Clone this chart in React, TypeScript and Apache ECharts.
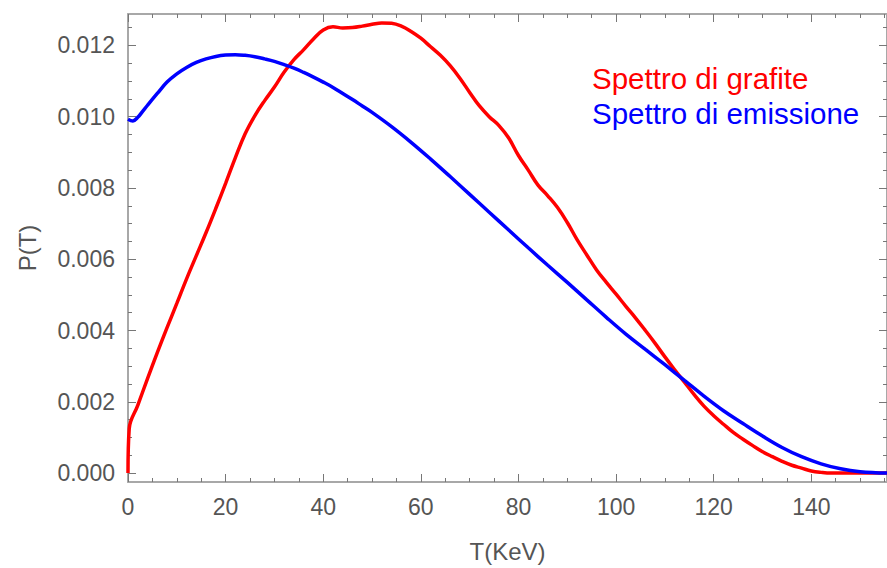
import React, { useEffect, useRef } from "react";
import * as echarts from "echarts";

// Spettro di grafite (energy T in keV, probability P)
const T_GRAFITE = [
  0, 0.25, 2, 4, 6, 8, 10, 12, 14, 16, 18, 20, 22, 24, 26, 28, 30, 32, 34, 36,
  38, 40, 42, 44, 46, 48, 50, 52, 54, 56, 58, 60, 62, 64, 66, 68, 70, 72, 74,
  76, 78, 80, 82, 84, 86, 88, 90, 92, 94, 96, 98, 100, 102, 104, 106, 108, 110,
  112, 114, 116, 118, 120, 122, 124, 126, 128, 130, 132, 134, 136, 138, 140,
  142, 144, 148, 152, 155.5,
];
const P_GRAFITE = [
  0, 0.00125, 0.0019, 0.00265, 0.00338, 0.00408, 0.00476, 0.00545, 0.0061,
  0.00675, 0.00743, 0.00813, 0.00885, 0.00952, 0.01003, 0.01045, 0.01083,
  0.01125, 0.0116, 0.01188, 0.01218, 0.01243, 0.01252, 0.01249, 0.0125,
  0.01254, 0.01259, 0.01263, 0.01262, 0.01254, 0.01239, 0.0122, 0.01196,
  0.01172, 0.01143, 0.01108, 0.01068, 0.0103, 0.01, 0.00975, 0.0094, 0.00891,
  0.0085, 0.00808, 0.00778, 0.00745, 0.00703, 0.00655, 0.00612, 0.0057,
  0.00535, 0.00502, 0.00468, 0.00435, 0.004, 0.00364, 0.00326, 0.0029,
  0.00255, 0.0022, 0.00188, 0.00161, 0.00137, 0.00114, 0.00095, 0.00077,
  0.0006, 0.00046, 0.00033, 0.00022, 0.00014, 0.00006, 0.00002, 0, 0, 0, 0,
];

// Spettro di emissione
const T_EMISSIONE = [
  0, 1, 2, 3, 4, 6, 8, 10, 12, 14, 16, 18, 20, 22, 24, 26, 28, 30, 32, 34, 36,
  38, 40, 42, 44, 46, 48, 50, 54, 58, 62, 66, 70, 74, 78, 82, 86, 90, 94, 98,
  102, 106, 110, 114, 118, 122, 126, 130, 134, 138, 142, 146, 150, 155.5,
];
const P_EMISSIONE = [
  0.00993, 0.00988, 0.00998, 0.01015, 0.01032, 0.01065, 0.01097, 0.0112,
  0.01138, 0.01152, 0.01162, 0.01169, 0.01173, 0.01174, 0.01172, 0.01168,
  0.01162, 0.01155, 0.01146, 0.01136, 0.01124, 0.01111, 0.01097, 0.01082,
  0.01065, 0.01048, 0.0103, 0.01012, 0.00972, 0.00928, 0.00881, 0.00832,
  0.00782, 0.00732, 0.00682, 0.00632, 0.00583, 0.00535, 0.00486, 0.00437,
  0.0039, 0.00347, 0.00304, 0.0026, 0.00216, 0.00175, 0.00139, 0.00104,
  0.00072, 0.00046, 0.00026, 0.00012, 0.00004, 0,
];

// Axis ticks
const X_MAJOR = [0, 20, 40, 60, 80, 100, 120, 140];
const X_MINOR = [5, 10, 15, 25, 30, 35, 45, 50, 55, 65, 70, 75, 85, 90, 95, 105, 110, 115, 125, 130, 135, 145, 150, 155];
const Y_MAJOR = [0, 0.002, 0.004, 0.006, 0.008, 0.01, 0.012];
const Y_MINOR = [0.0005, 0.001, 0.0015, 0.0025, 0.003, 0.0035, 0.0045, 0.005, 0.0055, 0.0065, 0.007, 0.0075, 0.0085, 0.009, 0.0095, 0.0105, 0.011, 0.0115, 0.0125];

const X_MIN = 0;
const X_MAX = 155.5;
const Y_MIN = -0.00025;
const Y_MAX = 0.01288;

const FONT = "Liberation Sans, Arial, sans-serif";
const LINE_COLOR = "#a8a8a8";
const TICK_COLOR = "#777";
const LABEL_COLOR = "#555";

function makeAxis(
  dim: "x" | "y",
  position: string,
  ticks: number[],
  tickLen: number,
  showLabels: boolean,
  showLine: boolean,
  extra: Record<string, unknown> = {}
) {
  return {
    type: "value",
    position,
    min: dim === "x" ? X_MIN : Y_MIN,
    max: dim === "x" ? X_MAX : Y_MAX,
    splitLine: { show: false },
    axisLine: {
      show: showLine,
      onZero: false,
      lineStyle: { color: LINE_COLOR, width: 2 },
    },
    axisTick: {
      show: true,
      inside: true,
      length: tickLen,
      customValues: ticks,
      lineStyle: { color: TICK_COLOR, width: 1 },
    },
    axisLabel: {
      show: showLabels,
      customValues: ticks,
      color: LABEL_COLOR,
      fontSize: 23,
      fontFamily: FONT,
      margin: 13,
      formatter: (v: number) => (dim === "x" ? String(Math.round(v)) : v.toFixed(3)),
    },
    ...extra,
  };
}

export default function App() {
  const ref = useRef<HTMLDivElement>(null);

  useEffect(() => {
    if (!ref.current) return;
    const chart = echarts.init(ref.current, null, { renderer: "svg" });

    const grafite = T_GRAFITE.map((t, i) => [t, P_GRAFITE[i]]);
    const emissione = T_EMISSIONE.map((t, i) => [t, P_EMISSIONE[i]]);

    chart.setOption({
      animation: false,
      backgroundColor: "#ffffff",
      grid: { left: 128, right: -2, top: 14, bottom: 82, containLabel: false },
      legend: {
        orient: "vertical",
        left: 582,
        top: 58,
        icon: "none",
        itemWidth: 0,
        itemHeight: 10,
        itemGap: 5,
        selectedMode: false,
        textStyle: { fontSize: 29.5, fontFamily: FONT },
        data: [
          { name: "Spettro di grafite", textStyle: { color: "#ff0000" } },
          { name: "Spettro di emissione", textStyle: { color: "#0000ff" } },
        ],
      },
      xAxis: [
        makeAxis("x", "bottom", X_MAJOR, 8, true, true, {
          name: "T(KeV)",
          nameLocation: "middle",
          nameGap: 57,
          nameTextStyle: { color: LABEL_COLOR, fontSize: 24, fontFamily: FONT },
        }),
        makeAxis("x", "bottom", X_MINOR, 4, false, false),
        makeAxis("x", "top", X_MAJOR, 8, false, true),
        makeAxis("x", "top", X_MINOR, 4, false, false),
      ],
      yAxis: [
        makeAxis("y", "left", Y_MAJOR, 8, true, true, {
          name: "P(T)",
          nameLocation: "middle",
          nameRotate: 90,
          nameGap: 89,
          nameTextStyle: { color: LABEL_COLOR, fontSize: 24, fontFamily: FONT },
        }),
        makeAxis("y", "left", Y_MINOR, 4, false, false),
        makeAxis("y", "right", Y_MAJOR, 8, false, true),
        makeAxis("y", "right", Y_MINOR, 4, false, false),
      ],
      series: [
        {
          name: "Spettro di grafite",
          type: "line",
          xAxisIndex: 0,
          yAxisIndex: 0,
          data: grafite,
          showSymbol: false,
          smooth: 0.4,
          lineStyle: { color: "#ff0000", width: 3.5 },
          itemStyle: { color: "#ff0000" },
        },
        {
          name: "Spettro di emissione",
          type: "line",
          xAxisIndex: 0,
          yAxisIndex: 0,
          data: emissione,
          showSymbol: false,
          smooth: 0.4,
          lineStyle: { color: "#0000ff", width: 3.5 },
          itemStyle: { color: "#0000ff" },
        },
      ],
    });

    return () => chart.dispose();
  }, []);

  return (
    <div
      ref={ref}
      style={{ position: "fixed", left: 0, top: 0, width: 887, height: 568, background: "#fff" }}
    />
  );
}
